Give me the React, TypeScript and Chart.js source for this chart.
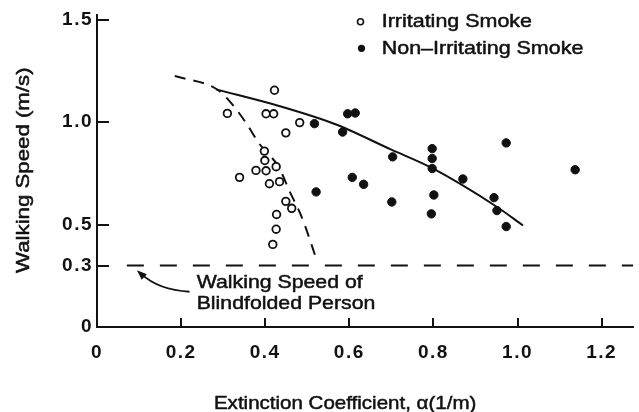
import React, { useEffect, useRef } from 'react';
import { Chart, registerables } from 'chart.js';

Chart.register(...registerables);

// ---- data ----
const seriesLabels = ['Irritating Smoke', 'Non\u2013Irritating Smoke'];

const irritatingX = [0.422, 0.31, 0.402, 0.42, 0.482, 0.449, 0.398, 0.399, 0.378, 0.402, 0.426, 0.339, 0.41, 0.434, 0.449, 0.463, 0.427, 0.426, 0.418];
const irritatingY = [1.155, 1.042, 1.04, 1.04, 0.997, 0.947, 0.858, 0.812, 0.764, 0.762, 0.782, 0.73, 0.699, 0.709, 0.613, 0.579, 0.549, 0.477, 0.403];

const nonIrritatingX = [0.596, 0.614, 0.517, 0.584, 0.703, 0.797, 0.797, 0.797, 0.973, 1.137, 0.87, 0.607, 0.634, 0.521, 0.701, 0.801, 0.795, 0.944, 0.951, 0.973];
const nonIrritatingY = [1.04, 1.044, 0.992, 0.951, 0.83, 0.87, 0.822, 0.773, 0.898, 0.767, 0.722, 0.73, 0.696, 0.659, 0.61, 0.644, 0.552, 0.631, 0.568, 0.49];

const solidFitX = [0.283, 0.433, 0.567, 0.7, 0.795, 0.953, 1.013];
const solidFitY = [1.159, 1.078, 0.989, 0.865, 0.777, 0.583, 0.495];

const dashedFitX = [0.185, 0.284, 0.315, 0.354, 0.386, 0.433, 0.457, 0.487, 0.524];
const dashedFitY = [1.224, 1.161, 1.102, 0.997, 0.894, 0.777, 0.666, 0.535, 0.317];

const blindfoldedSpeed = 0.3;
const blindfoldedLineX = [0.071, 1.275];

const xTickValues = [0, 0.2, 0.4, 0.6, 0.8, 1.0, 1.2];
const yTickValues = [0, 0.3, 0.5, 1.0, 1.5];

const xTitle = 'Extinction Coefficient, \u03b1(1/m)';
const yTitle = 'Walking Speed (m/s)';
const noteLines = ['Walking Speed of', 'Blindfolded Person'];

// ---- styling / layout ----
const FONT = "'Liberation Sans', Arial, Helvetica, sans-serif";
const INK = '#111';

function pts(xs: number[], ys: number[]) {
  return xs.map((x, i) => ({ x, y: ys[i] }));
}

function drawText(
  ctx: CanvasRenderingContext2D,
  text: string,
  x: number,
  y: number,
  size: number,
  sx: number,
  align: CanvasTextAlign,
  baseline: CanvasTextBaseline,
  rotate = 0
) {
  ctx.save();
  ctx.translate(x, y);
  if (rotate) ctx.rotate(rotate);
  ctx.scale(sx, 1);
  ctx.font = `normal ${size}px ${FONT}`;
  (ctx as any).letterSpacing = '0px';
  ctx.fillStyle = INK;
  ctx.strokeStyle = INK;
  ctx.lineWidth = 0.5;
  ctx.lineJoin = 'round';
  ctx.textAlign = align;
  ctx.textBaseline = baseline;
  ctx.fillText(text, 0, 0);
  ctx.strokeText(text, 0, 0);
  ctx.restore();
}

const decorPlugin = {
  id: 'decor',
  beforeDraw(chart: any) {
    (chart.ctx as any).letterSpacing = '1.5px';
  },
  beforeDatasetsDraw(chart: any) {
    (chart.ctx as any).letterSpacing = '0px';
  },
  afterDraw(chart: any) {
    const ctx: CanvasRenderingContext2D = chart.ctx;
    (ctx as any).letterSpacing = '0px';
    const xs = chart.scales.x;
    const ys = chart.scales.y;
    const area = chart.chartArea;

    // inward tick marks
    ctx.save();
    ctx.strokeStyle = INK;
    ctx.lineWidth = 2;
    ctx.beginPath();
    xTickValues.forEach((v) => {
      if (v === 0) return;
      const px = Math.round(xs.getPixelForValue(v));
      ctx.moveTo(px, area.bottom);
      ctx.lineTo(px, area.bottom - 9);
    });
    yTickValues.forEach((v) => {
      if (v === 0) return;
      const py = Math.round(ys.getPixelForValue(v));
      ctx.moveTo(area.left, py);
      ctx.lineTo(area.left + 12, py);
    });
    ctx.stroke();
    ctx.restore();

    // axis titles
    drawText(ctx, xTitle, xs.getPixelForValue(0.59), 409, 19, 1.08, 'center', 'alphabetic');
    drawText(ctx, yTitle, 29, (area.top + area.bottom) / 2 - 1, 19, 1.17, 'center', 'alphabetic', -Math.PI / 2);

    // legend
    ctx.save();
    ctx.strokeStyle = INK;
    ctx.fillStyle = '#fff';
    ctx.lineWidth = 1.6;
    ctx.beginPath();
    ctx.arc(360.5, 21.7, 3, 0, Math.PI * 2);
    ctx.fill();
    ctx.stroke();
    ctx.fillStyle = INK;
    ctx.beginPath();
    ctx.arc(361.5, 48.3, 3.6, 0, Math.PI * 2);
    ctx.fill();
    ctx.restore();
    drawText(ctx, seriesLabels[0], 381.7, 21.7, 19, 1.13, 'left', 'middle');
    drawText(ctx, seriesLabels[1], 381.7, 48.3, 19, 1.13, 'left', 'middle');

    // annotation for the blindfolded line
    const tx = xs.getPixelForValue(0.095);
    const ty = ys.getPixelForValue(0.277);
    const cx = xs.getPixelForValue(0.146);
    const cy = ys.getPixelForValue(0.18);
    const ex = xs.getPixelForValue(0.22);
    const ey = ys.getPixelForValue(0.172);
    ctx.save();
    ctx.strokeStyle = INK;
    ctx.fillStyle = INK;
    ctx.lineWidth = 1.8;
    ctx.beginPath();
    ctx.moveTo(ex, ey);
    ctx.quadraticCurveTo(cx, cy, tx + 4, ty + 3.5);
    ctx.stroke();
    const ang = Math.atan2(ty - cy, tx - cx);
    ctx.beginPath();
    ctx.moveTo(tx, ty);
    ctx.lineTo(tx - 10 * Math.cos(ang) + 3.8 * Math.sin(ang), ty - 10 * Math.sin(ang) - 3.8 * Math.cos(ang));
    ctx.lineTo(tx - 10 * Math.cos(ang) - 3.8 * Math.sin(ang), ty - 10 * Math.sin(ang) + 3.8 * Math.cos(ang));
    ctx.closePath();
    ctx.fill();
    ctx.restore();
    const nx = xs.getPixelForValue(0.237);
    drawText(ctx, noteLines[0], nx, ys.getPixelForValue(0.192), 19, 1.12, 'left', 'alphabetic');
    drawText(ctx, noteLines[1], nx, ys.getPixelForValue(0.087), 19, 1.12, 'left', 'alphabetic');
  },
};

export default function App() {
  const ref = useRef<HTMLCanvasElement | null>(null);

  useEffect(() => {
    if (!ref.current) return;
    const tickFont = { family: FONT, size: 19, weight: 'bold' as const };
    const chart = new Chart(ref.current, {
      type: 'scatter',
      data: {
        datasets: [
          {
            label: seriesLabels[0],
            data: pts(irritatingX, irritatingY),
            pointStyle: 'circle',
            pointRadius: 3.8,
            pointBorderWidth: 1.8,
            pointBackgroundColor: '#fff',
            pointBorderColor: INK,
            showLine: false,
          },
          {
            label: seriesLabels[1],
            data: pts(nonIrritatingX, nonIrritatingY),
            pointStyle: 'circle',
            pointRadius: 4.2,
            pointBorderWidth: 1,
            pointBackgroundColor: INK,
            pointBorderColor: INK,
            showLine: false,
          },
          {
            label: 'fit-solid',
            data: pts(solidFitX, solidFitY),
            showLine: true,
            borderColor: INK,
            borderWidth: 2,
            pointRadius: 0,
            cubicInterpolationMode: 'monotone',
          } as any,
          {
            label: 'fit-dashed',
            data: pts(dashedFitX, dashedFitY),
            showLine: true,
            borderColor: INK,
            borderWidth: 2,
            borderDash: [11, 8],
            pointRadius: 0,
            cubicInterpolationMode: 'monotone',
          } as any,
          {
            label: 'blindfolded',
            data: blindfoldedLineX.map((x) => ({ x, y: blindfoldedSpeed })),
            showLine: true,
            borderColor: INK,
            borderWidth: 2,
            borderDash: [17, 16],
            pointRadius: 0,
          },
        ],
      },
      options: {
        animation: false,
        responsive: false,
        devicePixelRatio: 1,
        layout: { padding: { top: 14, right: 3, left: 0, bottom: 0 } },
        plugins: { legend: { display: false }, tooltip: { enabled: false } },
        scales: {
          x: {
            type: 'linear',
            min: 0,
            max: 1.275,
            afterFit: (s: any) => {
              s.height = 85;
            },
            afterBuildTicks: (s: any) => {
              s.ticks = xTickValues.map((value) => ({ value }));
            },
            ticks: {
              font: tickFont,
              color: INK,
              padding: 14,
              maxRotation: 0,
              autoSkip: false,
              callback: (v: any) => (Number(v) === 0 ? '0' : Number(v).toFixed(1)),
            },
            grid: { drawOnChartArea: false, drawTicks: false },
            border: { color: INK, width: 2 },
          },
          y: {
            type: 'linear',
            min: 0,
            max: 1.52,
            afterFit: (s: any) => {
              s.width = 97;
            },
            afterBuildTicks: (s: any) => {
              s.ticks = yTickValues.map((value) => ({ value }));
            },
            ticks: {
              font: tickFont,
              color: INK,
              padding: 4,
              autoSkip: false,
              callback: (v: any) => (Number(v) === 0 ? '0' : Number(v).toFixed(1)),
            },
            grid: { drawOnChartArea: false, drawTicks: false },
            border: { color: INK, width: 2 },
          },
        },
      },
      plugins: [decorPlugin],
    });
    return () => chart.destroy();
  }, []);

  return (
    <div style={{ position: 'fixed', left: 0, top: 0, width: 639, height: 412, background: '#fff' }}>
      <canvas ref={ref} width={639} height={412} style={{ display: 'block' }} />
    </div>
  );
}
